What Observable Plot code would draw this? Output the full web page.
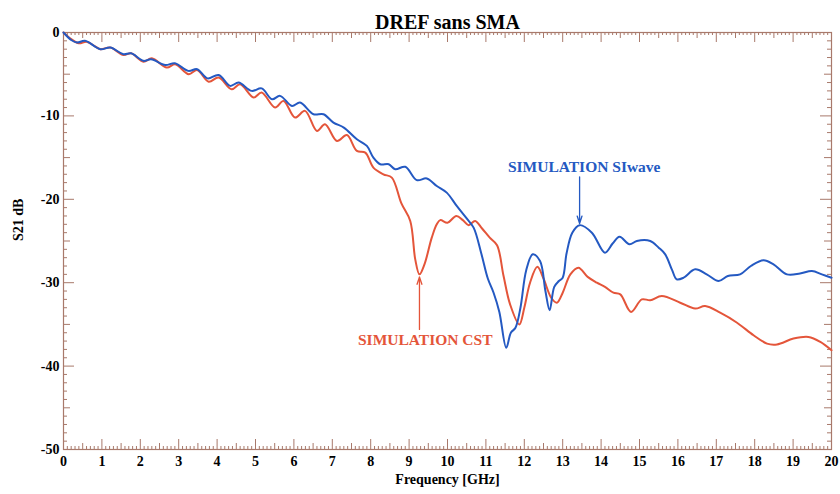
<!DOCTYPE html>
<html>
<head>
<meta charset="utf-8">
<script src="https://cdn.jsdelivr.net/npm/d3@7"></script>
<script src="https://cdn.jsdelivr.net/npm/@observablehq/plot@0.6"></script>
<style>
  html, body { margin: 0; padding: 0; background: #fff; }
</style>
</head>
<body>
<div id="chart"></div>
<script>
// ---- data ----
const title = "DREF sans SMA";
const xLabel = "Frequency [GHz]";
const yLabel = "S21 dB";

const cstFreq = [0,0.2,0.4,0.6,0.8,0.96,1.22,1.56,1.76,2.08,2.3,2.69,2.91,3.26,3.48,3.78,4.04,4.38,4.6,4.95,5.16,5.51,5.73,6.03,6.29,6.6,6.81,7.12,7.38,7.64,7.86,8.07,8.33,8.55,8.8,9.03,9.16,9.27,9.4,9.59,9.72,9.81,10.0,10.23,10.4,10.55,10.72,10.9,11.1,11.29,11.46,11.63,11.87,12.0,12.15,12.34,12.5,12.7,12.85,13.0,13.2,13.41,13.65,13.89,14.1,14.32,14.5,14.78,15.06,15.28,15.58,16.06,16.45,16.71,17.1,17.54,17.97,18.32,18.58,19.01,19.4,19.71,20.0];
const cstS21 = [0,-0.8,-1.3,-1.1,-1.6,-2.0,-1.8,-2.7,-2.5,-3.5,-3.1,-4.2,-3.8,-5.0,-4.5,-5.9,-5.4,-6.8,-6.2,-7.8,-7.2,-9.0,-8.2,-10.2,-9.4,-11.8,-11.0,-13.0,-12.3,-14.2,-14.4,-16.2,-17.0,-17.4,-20.5,-22.6,-27.2,-29.0,-27.8,-24.6,-23.0,-22.5,-22.8,-22.0,-22.5,-23.1,-22.6,-23.5,-24.6,-25.5,-29.2,-32.6,-35.0,-33.0,-30.0,-28.1,-29.5,-31.8,-32.4,-31.2,-29.0,-28.2,-29.3,-30.0,-30.5,-31.2,-31.4,-33.5,-32.0,-32.1,-31.6,-32.4,-33.1,-32.8,-33.6,-34.8,-36.3,-37.3,-37.4,-36.7,-36.5,-37.1,-38.1];

const siwFreq = [0,0.2,0.35,0.56,0.96,1.22,1.56,1.76,2.08,2.28,2.65,2.9,3.25,3.48,3.75,4.04,4.34,4.56,4.9,5.16,5.43,5.64,5.95,6.16,6.51,6.77,7.03,7.3,7.64,7.9,8.07,8.25,8.47,8.64,8.9,9.2,9.46,9.72,9.98,10.24,10.5,10.68,10.88,11.05,11.2,11.35,11.53,11.65,11.77,11.9,12.05,12.22,12.41,12.55,12.66,12.78,12.9,13.0,13.1,13.25,13.44,13.76,14.1,14.3,14.48,14.74,14.93,15.28,15.5,15.67,15.85,15.97,16.15,16.45,16.75,17.06,17.3,17.62,17.9,18.23,18.49,18.84,19.18,19.49,19.75,20.0];
const siwS21 = [0,-0.9,-1.2,-1.0,-2.0,-1.8,-2.6,-2.5,-3.4,-3.2,-3.9,-3.7,-4.6,-4.4,-5.5,-5.1,-6.4,-6.0,-7.0,-6.7,-8.0,-7.6,-8.8,-8.4,-9.8,-9.8,-10.8,-11.4,-12.8,-13.6,-15.0,-15.8,-15.8,-16.4,-16.1,-17.7,-17.5,-18.4,-19.2,-20.8,-22.3,-23.4,-26.5,-29.5,-31.2,-33.5,-37.8,-36.0,-35.4,-33.0,-28.5,-26.6,-27.4,-31.0,-33.3,-30.5,-29.8,-29.4,-26.5,-24.0,-23.1,-24.0,-26.4,-25.3,-24.5,-25.4,-25.0,-25.0,-25.8,-26.6,-28.5,-29.6,-29.4,-28.4,-29.0,-29.8,-29.2,-29.0,-28.0,-27.3,-27.8,-29.0,-28.9,-28.6,-29.0,-29.4];

const seriesNames = ["SIMULATION CST", "SIMULATION SIwave"];
const seriesColors = ["#e4553a", "#2459c2"];

// annotation: label position and arrow (from -> to)
const annLabel = ["SIMULATION CST", "SIMULATION SIwave"];
const annTextX = [9.42, 13.56];
const annTextY = [-36.9, -16.1];
const annArrowX = [9.27, 13.44];
const annArrowFromY = [-35.6, -17.3];
const annArrowToY = [-29.3, -22.9];

const xTicksMajor = d3.range(0, 20.001, 1);
const xTicksMid = d3.range(0.5, 20, 1);
const xTicksMinor = d3.range(0, 200).map(i => i / 10).filter(v => Math.abs(v * 2 - Math.round(v * 2)) > 1e-6);
const yTicksMajor = d3.range(-50, 0.001, 10);
const yTicksMid = d3.range(-45, 0, 10);
const yTicksMinor = d3.range(-50, 1, 1).filter(v => v % 5 !== 0);

// ---- build ----
const rows = [];
cstFreq.forEach((f, i) => rows.push({f, v: cstS21[i], s: seriesNames[0]}));
siwFreq.forEach((f, i) => rows.push({f, v: siwS21[i], s: seriesNames[1]}));
const ann = annLabel.map((t, i) => ({t, x: annTextX[i], y: annTextY[i], ax: annArrowX[i], y1: annArrowFromY[i], y2: annArrowToY[i], c: seriesColors[i]}));

const W = 840, H = 494, mL = 63, mR = 9, mT = 32, mB = 45;
const fw = W - mL - mR, fh = H - mT - mB;
const axisCol = "#a8796b";
const font = "'Liberation Serif', 'Times New Roman', serif";

const tickMarks = [];
function xt(data, len) {
  tickMarks.push(Plot.tickX(data, {x: d => d, stroke: axisCol, strokeWidth: 1, insetTop: fh - len}));
  tickMarks.push(Plot.tickX(data, {x: d => d, stroke: axisCol, strokeWidth: 1, insetBottom: fh - len}));
}
function yt(data, len) {
  tickMarks.push(Plot.tickY(data, {y: d => d, stroke: axisCol, strokeWidth: 1, insetRight: fw - len}));
  tickMarks.push(Plot.tickY(data, {y: d => d, stroke: axisCol, strokeWidth: 1, insetLeft: fw - len}));
}
xt(xTicksMinor, 3); xt(xTicksMid, 6); xt(xTicksMajor, 10);
yt(yTicksMinor, 4); yt(yTicksMid, 7); yt(yTicksMajor, 11);

const chart = Plot.plot({
  width: W, height: H,
  marginLeft: mL, marginRight: mR, marginTop: mT, marginBottom: mB,
  style: {fontFamily: font, fontSize: "14px", fontWeight: "bold", color: "#000", background: "#fff"},
  x: {domain: [0, 20]},
  y: {domain: [-50, 0]},
  color: {domain: seriesNames, range: seriesColors},
  marks: [
    Plot.axisX(xTicksMajor, {tickSize: 0, tickPadding: 7, label: null, tickFormat: d => String(d), fontSize: 14, fontWeight: "bold", fill: "#000"}),
    Plot.axisY(yTicksMajor, {tickSize: 0, tickPadding: 4, label: null, tickFormat: d => String(d), fontSize: 14, fontWeight: "bold", fill: "#000"}),
    ...tickMarks,
    Plot.frame({stroke: axisCol, strokeWidth: 1.2}),
    Plot.line(rows, {x: "f", y: "v", z: "s", stroke: "s", strokeWidth: 2, curve: "catmull-rom"}),
    Plot.arrow(ann, {x: "ax", y1: "y1", y2: "y2", stroke: "c", strokeWidth: 1.3, headLength: 9, headAngle: 36}),
    Plot.text(ann, {x: "x", y: "y", text: "t", fill: "c", fontSize: 15.5, fontWeight: "bold", fontFamily: font}),
    Plot.text([title], {frameAnchor: "top", dy: -18, text: d => d, fontSize: 20, fontWeight: "bold", fill: "#000", fontFamily: font}),
    Plot.text([xLabel], {frameAnchor: "bottom", dy: 34, text: d => d, fontSize: 14, fontWeight: "bold", fill: "#000", fontFamily: font}),
    Plot.text([yLabel], {frameAnchor: "left", dx: -45, rotate: -90, text: d => d, fontSize: 14, fontWeight: "bold", fill: "#000", fontFamily: font})
  ]
});
document.getElementById("chart").appendChild(chart);
</script>
</body>
</html>
